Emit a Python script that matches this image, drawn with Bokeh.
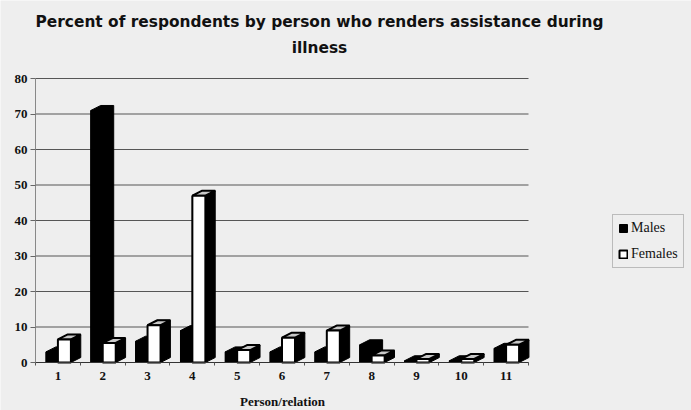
import numpy as np
from bokeh.plotting import figure
from bokeh.models import FixedTicker, Legend, LegendItem, Label, Range1d
from bokeh.embed import file_html
from bokeh.resources import INLINE

# ---- data ----
persons = [1, 2, 3, 4, 5, 6, 7, 8, 9, 10, 11]
tick_labels = [str(v) for v in persons]
males = [3, 71, 6, 9, 3, 3, 3, 5, 0.5, 0.5, 4]
females = [6.5, 5.5, 10.5, 47, 3.5, 7, 9, 2, 1, 1, 5]
y_ticks = [0, 10, 20, 30, 40, 50, 60, 70, 80]

title_line1 = "Percent of respondents by person who renders assistance during"
title_line2 = "illness"
x_title = "Person/relation"

# ---- layout / style (pixels measured on the reference) ----
W, H = 691, 410
AX_LEFT_PX, AX_RIGHT_PX = 35, 528     # extent of the category axis
AX_TOP_PX, AX_ZERO_PX = 78, 362       # value 80 / value 0
BG = "#eeeeee"
BAR_W = 0.29
M_OFF = -0.12
F_OFF = 0.145
DX = 0.22
DY = 1.4

x_lo, x_hi = persons[0] - 0.5, persons[-1] + 0.5
y_lo, y_hi = y_ticks[0], y_ticks[-1]
# the frame covers the whole canvas; axes sit at fixed locations inside it
ux = (x_hi - x_lo) / (AX_RIGHT_PX - AX_LEFT_PX)     # data units per px
uy = (y_hi - y_lo) / (AX_ZERO_PX - AX_TOP_PX)
x_start, x_end = x_lo - AX_LEFT_PX * ux, x_lo + (W - AX_LEFT_PX) * ux
y_start, y_end = y_lo - (H - AX_ZERO_PX) * uy, y_lo + AX_ZERO_PX * uy

p = figure(width=W, height=H, output_backend="svg", toolbar_location=None,
           x_range=Range1d(x_start, x_end), y_range=Range1d(y_start, y_end),
           min_border=0, min_border_left=0, min_border_right=0, min_border_top=0, min_border_bottom=0,
           background_fill_color=BG, border_fill_color=BG, outline_line_color=None)
p.title.visible = False

# horizontal grid lines limited to the category area
p.xgrid.grid_line_color = None
p.ygrid.grid_line_color = None
p.segment(x0=[x_lo] * len(y_ticks), x1=[x_hi] * len(y_ticks), y0=y_ticks, y1=y_ticks,
          line_color="#555555", line_width=1, level="underlay")


def solid(xc, v):
    l, r = xc - BAR_W / 2, xc + BAR_W / 2
    return ([l, r, r + DX, r + DX, l + DX, l], [0, 0, DY, v + DY, v + DY, v])


def front(xc, v):
    l, r = xc - BAR_W / 2, xc + BAR_W / 2
    return ([l, r, r, l], [0, 0, v, v])


def top(xc, v):
    l, r = xc - BAR_W / 2, xc + BAR_W / 2
    return ([l, r, r + DX, l + DX], [v, v, v + DY, v + DY])


xm = np.array(persons, dtype=float) + M_OFF
xf = np.array(persons, dtype=float) + F_OFF

ms = [solid(x, v) for x, v in zip(xm, males)]
p.patches([s[0] for s in ms], [s[1] for s in ms], fill_color="black", line_color="black", line_width=1)
mf = [front(x, v) for x, v in zip(xm, males)]
m_front = p.patches([s[0] for s in mf], [s[1] for s in mf], fill_color="black", line_color="black", line_width=1)

fs = [solid(x, v) for x, v in zip(xf, females)]
p.patches([s[0] for s in fs], [s[1] for s in fs], fill_color="black", line_color="black", line_width=1)
ft = [top(x, v) for x, v in zip(xf, females)]
p.patches([s[0] for s in ft], [s[1] for s in ft], fill_color="#c8c8c8", line_color="black", line_width=2)
ff = [front(x, v) for x, v in zip(xf, females)]
f_front = p.patches([s[0] for s in ff], [s[1] for s in ff], fill_color="white", line_color="black", line_width=2)

# ---- axes (fixed inside the frame) ----
xa = p.xaxis[0]
xa.fixed_location = y_lo
xa.bounds = (x_lo, x_hi)
xa.ticker = FixedTicker(ticks=persons, minor_ticks=[v - 0.5 for v in persons] + [x_hi])
xa.major_label_overrides = {v: s for v, s in zip(persons, tick_labels)}
xa.major_tick_line_color = None
xa.major_tick_out = 0
xa.minor_tick_in = 0
xa.minor_tick_out = 3
xa.minor_tick_line_color = "#555555"
xa.axis_line_color = "#333333"
xa.major_label_text_font = "Liberation Serif"
xa.major_label_text_font_style = "bold"
xa.major_label_text_font_size = "13px"
xa.major_label_text_color = "#111111"
xa.major_label_standoff = 6

ya = p.yaxis[0]
ya.fixed_location = x_lo
ya.bounds = (y_lo, y_hi)
ya.ticker = FixedTicker(ticks=y_ticks)
ya.minor_tick_line_color = None
ya.major_tick_in = 0
ya.major_tick_out = 5
ya.major_tick_line_color = "#666666"
ya.axis_line_color = "#888888"
ya.major_label_text_font = "Liberation Serif"
ya.major_label_text_font_style = "bold"
ya.major_label_text_font_size = "13px"
ya.major_label_text_color = "#111111"
ya.major_label_standoff = 3

# ---- texts in screen units (frame = canvas, y measured from the bottom) ----
def add_text(txt, x_px, baseline_px, font, size, style="bold"):
    p.add_layout(Label(x=x_px, y=H - baseline_px, x_units="screen", y_units="screen", text=txt,
                       text_align="center", text_baseline="alphabetic",
                       text_font=font, text_font_style=style,
                       text_font_size=size, text_color="#111111"))


add_text(title_line1, 319, 21, "DejaVu Sans", "15.4px")
add_text(title_line2, 319, 47, "DejaVu Sans", "15.4px")
add_text(x_title, 282, 401, "Liberation Serif", "13px")

# ---- legend ----
legend = Legend(items=[LegendItem(label="Males", renderers=[m_front]),
                       LegendItem(label="Females", renderers=[f_front])],
                location=(612, H - 268), orientation="vertical",
                background_fill_color=BG, background_fill_alpha=1,
                border_line_color="#888888", border_line_width=1,
                label_text_font="Liberation Serif", label_text_font_size="14px",
                label_text_color="#111111",
                glyph_width=10, glyph_height=10, label_standoff=3,
                padding=5, spacing=10, label_height=15, margin=0)
p.add_layout(legend)

open("out.html", "w").write(file_html(p, INLINE))
